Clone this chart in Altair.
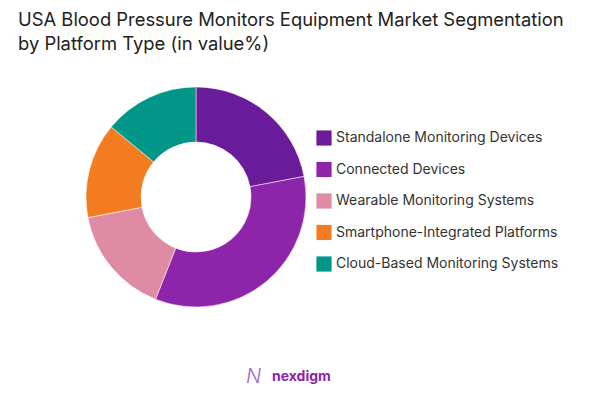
import altair as alt
import pandas as pd

categories = [
    "Standalone Monitoring Devices",
    "Connected Devices",
    " Wearable Monitoring Systems",
    "Smartphone-Integrated Platforms",
    "Cloud-Based Monitoring Systems",
]
shares = [22, 34, 16, 14, 14]
colors = ["#6a1b9a", "#8e24aa", "#de8ba3", "#f47c20", "#009688"]
title_lines = [
    "USA Blood Pressure Monitors Equipment Market Segmentation",
    "by Platform Type (in value%)",
]
brand = "nexdigm"

df = pd.DataFrame({"segment": categories, "share": shares, "idx": list(range(len(categories)))})

W, H = 577, 384
FONT = "Inter"

donut = alt.Chart(df).mark_arc(radius=110, radius2=55, stroke="white", strokeWidth=0.5).encode(
    theta=alt.Theta("share:Q", stack=True),
    order=alt.Order("idx:Q"),
    color=alt.Color(
        "segment:N",
        scale=alt.Scale(domain=categories, range=colors),
        sort=categories,
        legend=alt.Legend(
            title=None,
            orient="none",
            legendX=308,
            legendY=122,
            symbolType="square",
            symbolSize=230,
            symbolStrokeWidth=0,
            labelFontSize=14,
            labelFont=FONT,
            labelColor="#333333",
            labelOffset=4,
            rowPadding=15.5,
            labelLimit=300,
        ),
    ),
    x=alt.value(188),
    y=alt.value(189),
)

title1 = alt.Chart(pd.DataFrame({"t": [title_lines[0]]})).mark_text(
    align="left", baseline="alphabetic", fontSize=18.4, font=FONT, color="#222222"
).encode(text="t:N", x=alt.value(10), y=alt.value(18))

title2 = alt.Chart(pd.DataFrame({"t": [title_lines[1]]})).mark_text(
    align="left", baseline="alphabetic", fontSize=18.4, font=FONT, color="#222222"
).encode(text="t:N", x=alt.value(10), y=alt.value(42))

logo = alt.Chart(pd.DataFrame({"t": [brand]})).mark_text(
    align="left", baseline="middle", fontSize=14, font=FONT, fontWeight="bold", color="#8e24aa"
).encode(text="t:N", x=alt.value(264), y=alt.value(369))

icon = alt.Chart(pd.DataFrame({"t": ["N"]})).mark_text(
    align="left", baseline="middle", fontSize=20, font=FONT, fontWeight=300, color="#a066d0", fontStyle="italic"
).encode(text="t:N", x=alt.value(238), y=alt.value(369))

chart = alt.layer(donut, title1, title2, logo, icon).properties(
    width=W, height=H, padding=0
).configure_view(stroke=None)

chart.save("out.html", embed_options={"renderer": "svg", "actions": False})
